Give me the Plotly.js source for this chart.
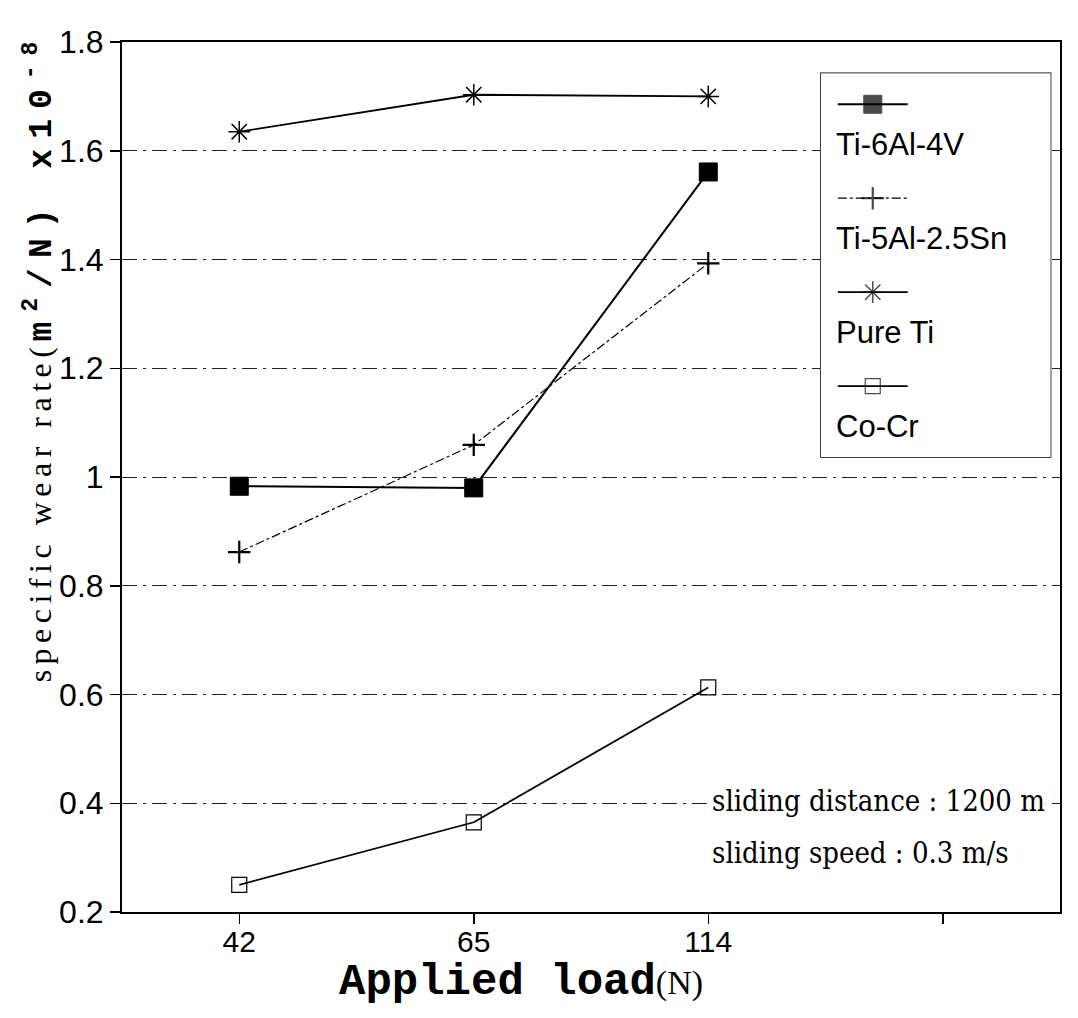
<!DOCTYPE html>
<html>
<head>
<meta charset="utf-8">
<script src="https://cdn.plot.ly/plotly-3.0.1.min.js"></script>
<style>html,body{margin:0;padding:0;background:#fff;}#chart{width:1078px;height:1018px;}</style>
</head>
<body>
<div id="chart"></div>
<script>
// ---- data ----
const categories = ['42', '65', '114', ' '];
const loads = ['42', '65', '114'];
const ti64 = [0.983, 0.980, 1.561];
const ti5al = [0.862, 1.059, 1.393];
const pureTi = [1.635, 1.703, 1.700];
const coCr = [0.250, 0.365, 0.613];
const seriesNames = ['Ti-6Al-4V', 'Ti-5Al-2.5Sn', 'Pure Ti', 'Co-Cr'];
const yTickVals = [0.2, 0.4, 0.6, 0.8, 1.0, 1.2, 1.4, 1.6, 1.8];
const yTickText = ['0.2', '0.4', '0.6', '0.8', '1', '1.2', '1.4', '1.6', '1.8'];
const noteLines = ['sliding distance : 1200 m', 'sliding speed : 0.3 m/s'];

// ---- styles ----
const styles = [
  {line: {color: '#000', width: 2, dash: 'solid'}, marker: {symbol: 'square', size: 18, color: '#000', line: {color: '#000', width: 1}}},
  {line: {color: '#000', width: 1.2, dash: 'dashdot'}, marker: {symbol: 'cross-thin', size: 16, color: '#000', line: {color: '#000', width: 2.2}}},
  {line: {color: '#000', width: 1.8, dash: 'solid'}, marker: {symbol: 'asterisk-open', size: 18, color: '#000', line: {color: '#000', width: 1.5}}},
  {line: {color: '#000', width: 1.8, dash: 'solid'}, marker: {symbol: 'square-open', size: 15, color: '#000', line: {color: '#000', width: 1.2}}}
];
const seriesData = [ti64, ti5al, pureTi, coCr];

const traces = seriesData.map((vals, i) => ({
  type: 'scatter', mode: 'lines+markers', x: loads, y: vals, name: seriesNames[i],
  line: styles[i].line, marker: styles[i].marker, showlegend: false, xaxis: 'x', yaxis: 'y'
}));

// manual legend (sample on top, label below), drawn in an inset axis
const legRowStep = 94, legSampleY0 = 31, legTextOffset = 40;
const legTraces = seriesNames.map((n, i) => {
  const yy = legSampleY0 + i * legRowStep;
  return {
    type: 'scatter', mode: 'lines+markers', x: [17, 52, 87], y: [yy, yy, yy],
    xaxis: 'x2', yaxis: 'y2', showlegend: false, hoverinfo: 'skip',
    line: styles[i].line,
    marker: Object.assign({}, styles[i].marker, {size: [0, styles[i].marker.size, 0]})
  };
});
const legAnn = seriesNames.map((n, i) => ({
  xref: 'x2', yref: 'y2', x: 13, y: legSampleY0 + i * legRowStep + legTextOffset,
  text: n, showarrow: false, xanchor: 'left', yanchor: 'middle',
  font: {family: 'Liberation Sans, Arial, sans-serif', size: 31, color: '#000'}
}));

const condSerif = '"DejaVu Serif Condensed", "DejaVu Serif", serif';

const layout = {
  width: 1078, height: 1018,
  margin: {l: 122, r: 18, t: 42, b: 106},
  paper_bgcolor: '#fff', plot_bgcolor: '#fff',
  showlegend: false,
  xaxis: {
    type: 'category', categoryorder: 'array', categoryarray: categories,
    tickvals: categories, ticktext: categories,
    range: [-0.5, 3.5], showgrid: false, zeroline: false,
    showline: true, linecolor: '#000', linewidth: 2, mirror: true,
    ticks: 'outside', ticklen: 10, tickwidth: 1.5, tickcolor: '#000',
    ticklabelstandoff: -8,
    tickfont: {family: 'Liberation Sans, Arial, sans-serif', size: 30, color: '#000'}
  },
  yaxis: {
    range: [0.2, 1.8], tickvals: yTickVals, ticktext: yTickText,
    showgrid: true, gridcolor: '#222', gridwidth: 1, griddash: 'longdashdot',
    zeroline: false, showline: true, linecolor: '#000', linewidth: 2, mirror: true,
    ticks: 'outside', ticklen: 10, tickwidth: 1.5, tickcolor: '#000',
    tickfont: {family: 'Liberation Sans, Arial, sans-serif', size: 32, color: '#000'}
  },
  xaxis2: {domain: [0.745, 0.990], anchor: 'y2', range: [0, 230], visible: false, fixedrange: true},
  yaxis2: {domain: [0.523, 0.964], anchor: 'x2', range: [384, 0], visible: false, fixedrange: true},
  shapes: [
    {type: 'rect', xref: 'x2 domain', yref: 'y2 domain', x0: 0, x1: 1, y0: 0, y1: 1,
     fillcolor: '#fff', line: {color: '#000', width: 1.5}, layer: 'below'}
  ],
  annotations: legAnn.concat([
    {xref: 'paper', yref: 'paper', x: 0.628, y: 0.128, xanchor: 'left', yanchor: 'middle', showarrow: false,
     bgcolor: '#fff', borderpad: 0,
     text: noteLines[0], font: {family: condSerif, size: 29, color: '#000'}},
    {xref: 'paper', yref: 'paper', x: 0.628, y: 0.068, xanchor: 'left', yanchor: 'middle', showarrow: false,
     bgcolor: '#fff', borderpad: 0,
     text: noteLines[1], font: {family: condSerif, size: 29, color: '#000'}},
    {xref: 'paper', yref: 'paper', x: 0.425, y: -0.081, xanchor: 'center', yanchor: 'middle', showarrow: false,
     text: '<b>Applied load</b><span style="font-family:Liberation Serif;font-size:34px">(N)</span>',
     font: {family: 'Liberation Mono, Courier New, monospace', size: 44, color: '#000'}},
    {xref: 'paper', yref: 'paper', x: -0.087, y: 0.638, xanchor: 'center', yanchor: 'middle', showarrow: false,
     textangle: -90,
     text: '<span style="font-family:Liberation Serif;font-size:32px;letter-spacing:5.5px">specific wear rate(</span><b><span style="font-size:33px;letter-spacing:10px">m<sup>2</sup>/N) x10<sup>-8</sup></span></b>',
     font: {family: 'Liberation Mono, Courier New, monospace', size: 30, color: '#000'}}
  ])
};

Plotly.newPlot('chart', traces.concat(legTraces), layout, {staticPlot: true, displayModeBar: false});
</script>
</body>
</html>
